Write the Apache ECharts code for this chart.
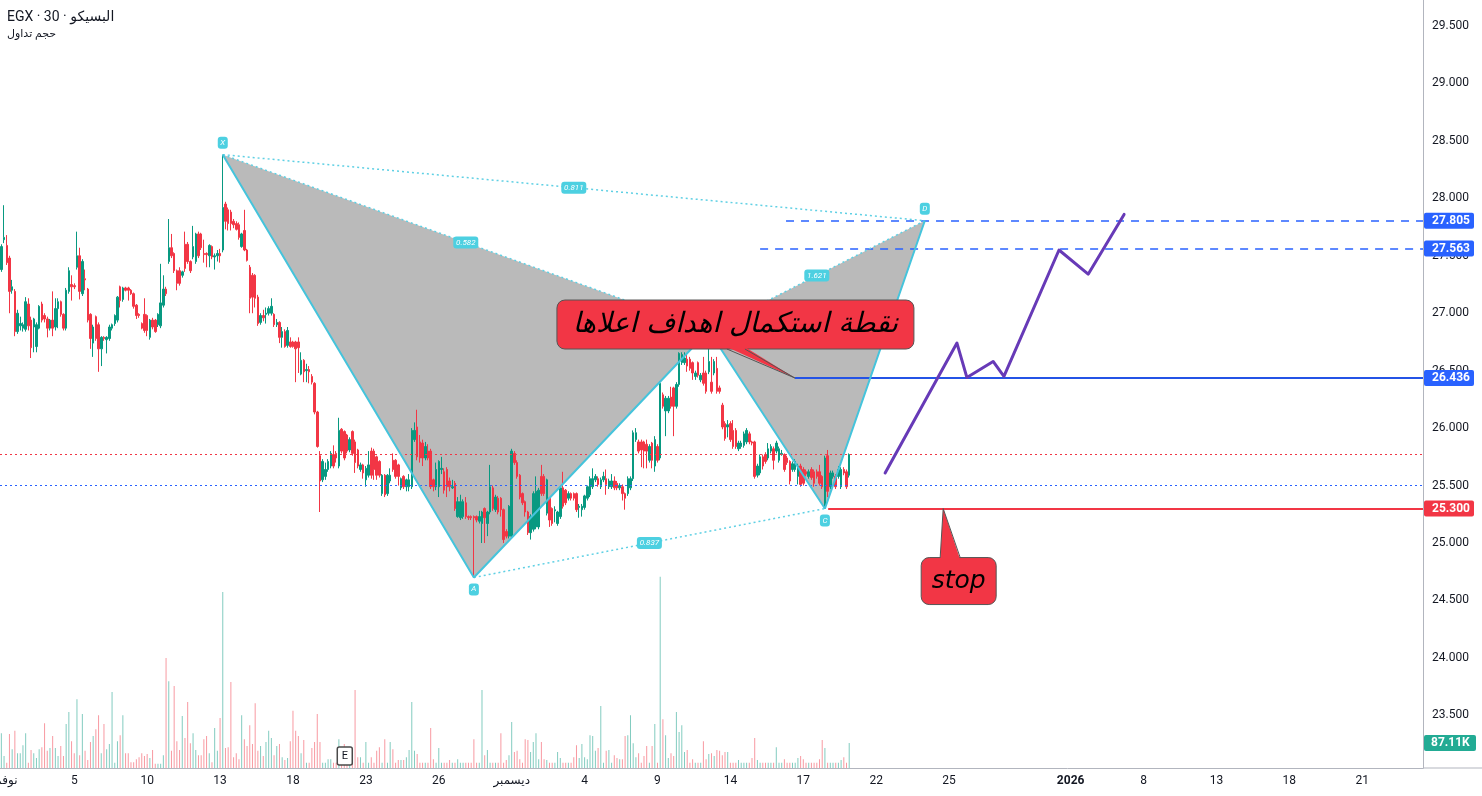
<!DOCTYPE html>
<html>
<head>
<meta charset="utf-8">
<title>EGX 30</title>
<script src="https://cdn.jsdelivr.net/npm/echarts@6.0.0/dist/echarts.min.js"></script>
<style>
  html, body { margin: 0; padding: 0; background: #fff; }
  #chart { width: 1482px; height: 796px; }
</style>
</head>
<body>
<div id="chart"></div>
<script>
// sessions on the time scale, 9 half-hour bars each
const days = [
  '2025-11-02', '2025-11-03', '2025-11-04', '2025-11-05', '2025-11-06', '2025-11-09', '2025-11-10',
  '2025-11-11', '2025-11-12', '2025-11-13', '2025-11-16', '2025-11-17', '2025-11-18', '2025-11-19',
  '2025-11-20', '2025-11-23', '2025-11-24', '2025-11-25', '2025-11-26', '2025-11-27', '2025-11-30',
  '2025-12-01', '2025-12-02', '2025-12-03', '2025-12-04', '2025-12-07', '2025-12-08', '2025-12-09',
  '2025-12-10', '2025-12-11', '2025-12-14', '2025-12-15', '2025-12-16', '2025-12-17', '2025-12-18',
  '2025-12-21', '2025-12-22', '2025-12-23', '2025-12-24', '2025-12-25', '2025-12-28', '2025-12-29',
  '2025-12-30', '2025-12-31', '2026-01-04', '2026-01-05', '2026-01-06', '2026-01-08', '2026-01-11',
  '2026-01-12', '2026-01-13', '2026-01-14', '2026-01-15', '2026-01-18', '2026-01-19', '2026-01-20',
  '2026-01-21', '2026-01-22', '2026-01-25'
]
const dayTicks = {
  '2025-11-02': 'نوفمبر', '2025-11-05': '5', '2025-11-10': '10', '2025-11-13': '13',
  '2025-11-18': '18', '2025-11-23': '23', '2025-11-26': '26', '2025-12-01': 'ديسمبر',
  '2025-12-04': '4', '2025-12-09': '9', '2025-12-14': '14', '2025-12-17': '17',
  '2025-12-22': '22', '2025-12-25': '25', '2026-01-04': '2026', '2026-01-08': '8',
  '2026-01-13': '13', '2026-01-18': '18', '2026-01-21': '21'
}
const barsPerDay = 9
const slotCount = 527

// [open, close, low, high]
const candles = [
  [27.38,27.58,27.36,27.60],[27.64,27.66,27.61,27.94],[27.59,27.44,27.42,27.68],[27.48,27.19,27.00,27.50],[27.20,27.23,27.17,27.29],
  [27.19,26.84,26.80,27.21],[26.84,27.00,26.82,27.03],[26.89,26.91,26.85,26.97],[26.87,26.90,26.84,26.92],[26.86,27.10,26.84,27.14],
  [27.08,26.89,26.85,27.13],[26.94,26.70,26.61,26.97],[26.88,26.95,26.66,26.96],[26.71,26.90,26.66,26.92],[26.87,27.06,26.86,27.07],
  [27.08,26.94,26.92,27.10],[26.98,26.95,26.92,27.00],[26.95,26.87,26.79,26.97],[26.87,26.94,26.85,26.95],[26.94,26.87,26.80,27.19],
  [26.88,27.04,26.85,27.13],[27.04,27.10,26.87,27.13],[27.10,26.99,26.97,27.11],[26.99,26.87,26.85,27.00],[26.87,27.20,26.85,27.22],
  [27.19,27.37,27.17,27.40],[27.25,27.23,27.11,27.33],[27.24,27.23,27.21,27.26],[27.40,27.50,27.38,27.71],[27.50,27.19,27.12,27.57],
  [27.17,27.45,27.15,27.47],[27.30,27.29,27.20,27.38],[27.21,26.94,26.92,27.22],[26.99,26.78,26.69,27.00],[26.74,26.88,26.62,26.90],
  [26.97,26.78,26.76,26.98],[26.90,26.69,26.49,26.92],[26.69,26.79,26.54,26.80],[26.79,26.78,26.76,26.80],[26.77,26.79,26.65,26.80],
  [26.78,26.88,26.76,26.90],[26.87,26.90,26.85,26.91],[26.91,26.98,26.89,26.99],[26.94,27.14,26.92,27.15],[27.23,27.11,27.05,27.24],
  [27.12,27.22,27.10,27.23],[27.22,27.20,27.19,27.23],[27.22,27.20,27.11,27.23],[27.20,27.17,27.16,27.21],[27.17,27.06,27.04,27.18],
  [27.07,26.98,26.95,27.08],[26.99,26.98,26.96,27.00],[26.91,26.87,26.86,26.92],[26.99,26.85,26.83,27.13],[26.98,26.85,26.80,26.99],
  [26.79,26.94,26.77,26.95],[26.94,26.88,26.86,26.96],[26.94,26.84,26.83,26.95],[26.90,26.99,26.88,27.00],[26.89,27.09,26.87,27.43],
  [27.07,27.21,27.05,27.33],[27.21,27.17,27.15,27.23],[27.45,27.57,27.43,27.82],[27.57,27.50,27.48,27.69],[27.52,27.37,27.35,27.53],
  [27.37,27.26,27.20,27.38],[27.37,27.26,27.24,27.40],[27.33,27.36,27.31,27.37],[27.60,27.39,27.36,27.71],[27.60,27.45,27.43,27.62],
  [27.45,27.37,27.35,27.46],[27.49,27.58,27.47,27.76],[27.45,27.69,27.43,27.70],[27.69,27.50,27.48,27.71],[27.69,27.57,27.55,27.70],
  [27.52,27.51,27.44,27.64],[27.52,27.51,27.40,27.53],[27.50,27.59,27.40,27.60],[27.58,27.49,27.47,27.59],[27.49,27.50,27.38,27.52],
  [27.50,27.52,27.45,27.55],[27.52,27.50,27.44,27.56],[27.55,27.92,27.53,28.38],[27.95,27.80,27.73,27.97],[27.90,27.78,27.72,27.92],
  [27.88,27.78,27.72,27.90],[27.80,27.77,27.74,27.82],[27.78,27.73,27.72,27.80],[27.77,27.66,27.64,27.79],[27.58,27.69,27.57,27.70],
  [27.72,27.55,27.54,27.90],[27.55,27.46,27.45,27.56],[27.40,27.13,27.00,27.42],[27.33,27.14,27.00,27.35],[27.33,27.13,27.05,27.34],
  [27.14,26.91,26.89,27.16],[26.92,26.98,26.90,27.00],[26.98,26.96,26.93,27.03],[26.99,27.00,26.91,27.05],[27.00,27.04,26.98,27.06],
  [27.00,27.06,26.98,27.13],[26.99,26.90,26.88,27.00],[26.90,26.92,26.88,26.95],[26.92,26.79,26.74,26.93],[26.79,26.84,26.70,26.88],
  [26.84,26.71,26.70,26.86],[26.72,26.85,26.70,26.88],[26.75,26.71,26.70,26.79],[26.75,26.71,26.70,26.76],[26.75,26.69,26.40,26.76],
  [26.75,26.70,26.48,26.79],[26.47,26.59,26.46,26.66],[26.59,26.49,26.40,26.60],[26.50,26.51,26.40,26.56],[26.51,26.49,26.39,26.54],
  [26.45,26.40,26.38,26.47],[26.39,26.14,26.12,26.40],[26.14,25.84,25.83,26.15],[25.76,25.54,25.27,25.80],[25.55,25.71,25.53,25.73],
  [25.58,25.64,25.55,25.70],[25.64,25.71,25.62,25.73],[25.67,25.78,25.65,25.80],[25.77,25.67,25.65,25.85],[25.78,25.74,25.70,25.80],
  [25.67,25.98,25.65,26.09],[25.99,25.80,25.78,26.00],[25.97,25.74,25.72,25.98],[25.94,25.80,25.78,25.95],[25.81,25.90,25.79,25.92],
  [25.97,25.78,25.76,25.98],[25.88,25.70,25.61,25.90],[25.81,25.67,25.65,25.82],[25.64,25.68,25.62,25.70],[25.68,25.61,25.56,25.69],
  [25.55,25.65,25.49,25.67],[25.59,25.68,25.57,25.80],[25.80,25.59,25.56,25.83],[25.80,25.64,25.55,25.82],[25.75,25.59,25.55,25.76],
  [25.71,25.59,25.57,25.72],[25.43,25.59,25.41,25.60],[25.59,25.42,25.40,25.60],[25.43,25.59,25.41,25.60],[25.54,25.59,25.52,25.65],
  [25.72,25.64,25.62,25.78],[25.72,25.58,25.56,25.73],[25.68,25.58,25.50,25.69],[25.48,25.56,25.46,25.57],[25.58,25.49,25.47,25.59],
  [25.49,25.55,25.45,25.56],[25.49,25.55,25.45,25.60],[25.49,25.98,25.47,26.00],[25.90,25.98,25.88,26.05],[26.01,25.75,25.72,26.16],
  [25.88,25.74,25.70,25.94],[25.87,25.74,25.67,25.90],[25.74,25.84,25.72,25.88],[25.80,25.74,25.72,25.86],[25.80,25.49,25.47,25.82],
  [25.55,25.49,25.45,25.56],[25.49,25.64,25.46,25.70],[25.49,25.71,25.40,25.72],[25.64,25.65,25.60,25.75],[25.62,25.46,25.43,25.65],
  [25.64,25.49,25.40,25.66],[25.54,25.49,25.45,25.57],[25.48,25.49,25.47,25.55],[25.52,25.30,25.28,25.54],[25.23,25.36,25.22,25.40],
  [25.22,25.36,25.20,25.42],[25.23,25.36,25.21,25.38],[25.35,25.23,25.21,25.40],[25.23,25.22,25.20,25.24],[25.23,25.22,25.20,25.24],
  [25.23,25.22,24.70,25.24],[25.23,25.20,25.18,25.24],[25.19,25.23,25.17,25.28],[25.17,25.27,25.00,25.28],[25.30,25.22,25.00,25.31],
  [25.17,25.27,25.06,25.28],[25.27,25.49,25.25,25.68],[25.48,25.30,25.28,25.50],[25.29,25.40,25.27,25.42],[25.39,25.27,25.25,25.41],
  [25.39,25.29,25.23,25.40],[25.29,25.03,25.00,25.30],[25.10,25.06,25.04,25.12],[25.06,25.32,25.04,25.33],[25.06,25.80,25.04,25.82],
  [25.78,25.70,25.68,25.80],[25.70,25.58,25.56,25.72],[25.59,25.40,25.38,25.60],[25.43,25.35,25.33,25.44],[25.36,25.27,25.23,25.37],
  [25.27,25.09,25.07,25.28],[25.09,25.23,25.03,25.25],[25.12,25.43,25.10,25.45],[25.14,25.45,25.12,25.58],[25.14,25.46,25.12,25.48],
  [25.58,25.43,25.41,25.68],[25.58,25.43,25.41,25.60],[25.26,25.55,25.24,25.56],[25.39,25.20,25.14,25.40],[25.30,25.17,25.15,25.31],
  [25.28,25.29,25.18,25.32],[25.17,25.27,25.15,25.28],[25.23,25.48,25.21,25.49],[25.48,25.32,25.30,25.62],[25.46,25.35,25.33,25.47],
  [25.39,25.43,25.37,25.45],[25.43,25.39,25.37,25.44],[25.43,25.39,25.37,25.44],[25.43,25.29,25.27,25.44],[25.31,25.32,25.22,25.34],
  [25.29,25.32,25.23,25.34],[25.31,25.41,25.29,25.42],[25.39,25.49,25.37,25.50],[25.42,25.56,25.40,25.58],[25.49,25.56,25.47,25.65],
  [25.55,25.58,25.53,25.60],[25.56,25.51,25.49,25.58],[25.49,25.55,25.47,25.57],[25.55,25.58,25.53,25.62],[25.56,25.51,25.42,25.64],
  [25.49,25.54,25.47,25.56],[25.49,25.54,25.47,25.60],[25.54,25.48,25.46,25.58],[25.52,25.48,25.46,25.54],[25.48,25.50,25.46,25.52],
  [25.49,25.43,25.37,25.51],[25.43,25.39,25.29,25.44],[25.43,25.56,25.41,25.58],[25.48,25.56,25.46,25.58],[25.56,25.96,25.54,25.98],
  [25.90,25.96,25.88,26.00],[25.88,25.80,25.78,25.90],[25.88,25.81,25.66,25.90],[25.88,25.80,25.65,25.89],[25.86,25.80,25.65,25.90],
  [25.72,25.84,25.70,25.86],[25.87,25.72,25.65,25.88],[25.67,25.90,25.62,25.93],[25.84,25.72,25.70,25.86],[25.74,26.39,25.72,26.41],
  [26.29,26.19,26.17,26.31],[26.15,26.26,25.93,26.28],[26.15,26.26,26.13,26.28],[26.27,26.19,26.17,26.36],[26.35,26.19,25.93,26.36],
  [26.19,26.38,26.17,26.40],[26.38,26.65,26.36,26.66],[26.57,26.64,26.55,26.66],[26.57,26.61,26.55,26.66],[26.60,26.54,26.49,26.65],
  [26.60,26.52,26.50,26.62],[26.57,26.48,26.42,26.58],[26.45,26.48,26.42,26.50],[26.57,26.46,26.44,26.58],[26.42,26.46,26.40,26.48],
  [26.48,26.39,26.37,26.62],[26.48,26.32,26.30,26.50],[26.49,26.58,26.47,26.85],[26.40,26.32,26.30,26.62],[26.48,26.58,26.46,26.60],
  [26.52,26.32,26.30,26.62],[26.35,26.32,26.30,26.37],[26.20,26.01,25.99,26.22],[26.04,25.91,25.89,26.06],[26.01,26.03,25.92,26.07],
  [26.04,25.90,25.88,26.06],[25.98,25.84,25.82,26.07],[25.98,25.84,25.82,26.00],[25.82,25.87,25.80,25.89],[25.84,25.87,25.82,25.89],
  [25.85,25.95,25.83,25.97],[25.88,25.98,25.86,26.00],[25.95,25.88,25.86,25.97],[25.88,25.87,25.85,25.89],[25.88,25.58,25.56,25.89],
  [25.59,25.67,25.57,25.69],[25.61,25.75,25.59,25.77],[25.75,25.67,25.64,25.77],[25.77,25.71,25.69,25.79],[25.74,25.82,25.72,25.87],
  [25.80,25.84,25.78,25.86],[25.82,25.72,25.64,25.84],[25.80,25.87,25.78,25.89],[25.72,25.82,25.70,25.84],[25.77,25.78,25.76,25.81],
  [25.77,25.64,25.62,25.78],[25.74,25.70,25.68,25.76],[25.71,25.54,25.51,25.72],[25.64,25.69,25.62,25.71],[25.64,25.71,25.62,25.73],
  [25.58,25.67,25.51,25.69],[25.67,25.51,25.49,25.69],[25.64,25.52,25.50,25.66],[25.62,25.60,25.58,25.64],[25.58,25.62,25.56,25.64],
  [25.64,25.57,25.55,25.66],[25.62,25.52,25.49,25.64],[25.62,25.58,25.56,25.64],[25.62,25.52,25.50,25.68],[25.58,25.49,25.47,25.59],
  [25.32,25.74,25.30,25.76],[25.76,25.45,25.40,25.81],[25.49,25.61,25.47,25.63],[25.58,25.61,25.56,25.63],[25.58,25.49,25.47,25.60],
  [25.58,25.64,25.56,25.67],[25.49,25.64,25.47,25.66],[25.64,25.61,25.59,25.66],[25.62,25.49,25.47,25.64],[25.59,25.77,25.57,25.78]
]

// volume per bar, thousands
const volumes = [
  122,42,18,119,66,130,52,52,80,122, 18,63,52,35,66,73,157,60,70,112,
  70,42,77,42,154,196,94,52,241,45, 189,60,28,91,112,136,185,52,154,66,
  84,266,18,94,115,185,52,52,20,20, 31,38,52,42,49,35,63,15,15,15,
  45,385,304,60,287,94,63,182,105,231, 87,122,63,45,45,101,112,52,20,140,
  60,175,616,70,73,301,38,52,31,185, 101,77,150,84,227,60,77,42,91,130,
  105,45,77,84,38,28,35,94,200,130, 112,52,98,18,18,70,91,189,91,18,
  18,31,31,18,18,101,18,84,18,18, 18,273,38,38,18,91,18,38,18,60,
  73,18,101,18,91,66,18,28,28,28, 38,63,231,60,49,18,18,18,18,140,
  31,18,70,18,18,18,28,18,18,31, 18,18,18,18,18,101,18,18,273,45,
  63,18,18,18,18,122,18,28,45,161, 56,60,31,18,101,98,56,91,122,31,
  91,31,28,18,18,18,56,35,18,18, 18,18,38,80,35,84,38,31,115,112,
  60,70,217,18,60,63,18,45,35,31, 31,112,115,185,87,38,52,18,42,77,
  18,77,154,18,669,171,115,35,52,42, 196,126,150,56,63,18,31,18,18,18,
  94,31,49,52,42,63,60,45,56,56, 18,18,18,28,18,18,18,18,35,105,
  28,18,18,18,18,18,18,73,18,18, 31,18,18,18,18,35,42,31,18,18,
  18,18,18,31,98,70,18,18,18,18, 18,28,38,18,87.11
]

// harmonic pattern points [bar, price]
const patternNames = ['X', 'A', 'B', 'C', 'D']
const patternPoints = [[82, 28.38], [175, 24.70], [262, 26.85], [305, 25.30], [342, 27.805]]
// ratio legs: [from point, to point, ratio]
const ratioLegs = [[0, 2, '0.582'], [0, 4, '0.811'], [1, 3, '0.837'], [2, 4, '1.621']]

// horizontal levels: price and bar where the drawing begins
const levelPrices = [27.805, 27.563, 26.436, 25.300]
const levelStart = [290.6, 281.0, 293.9, 306.2]
const lastPrice = 25.77
const refPrice = 25.50

// projected path [bar, price]
const forecastPath = [[327.3, 25.61], [353.9, 26.74], [357.6, 26.44], [367.3, 26.58], [371.3, 26.45],
  [391.7, 27.55], [402.5, 27.34], [415.8, 27.86]]

// callouts: anchor [bar, price] and text
const calloutAnchors = [[293.9, 26.436], [348.8, 25.30]]
const calloutTexts = ['نقطة استكمال اهداف اعلاها', 'stop']

const eventBar = 127

const UP = '#089981'
const DOWN = '#f23645'
const BLUE = '#2962ff'
const CYAN = '#4dd0e1'
const FONT = "Roboto, 'DejaVu Sans', sans-serif"

const categories = []
days.forEach(d => {
  for (let k = 0; k < barsPerDay; k++) categories.push(d + ' ' + k)
})
categories.length = slotCount

const volumeData = volumes.map((v, i) => ({
  value: v,
  itemStyle: { color: candles[i][1] >= candles[i][0] ? 'rgba(8,153,129,0.5)' : 'rgba(242,54,69,0.5)' }
}))

const levelStyles = [
  { color: BLUE, width: 1.5, type: [8, 7], opacity: 1 },
  { color: BLUE, width: 1.5, type: [8, 7], opacity: 1 },
  { color: '#2453e6', width: 2, type: 'solid', opacity: 1 },
  { color: DOWN, width: 2, type: 'solid', opacity: 1 }
]
const tagColors = [BLUE, BLUE, BLUE, DOWN]

const lineData = []
levelPrices.forEach((p, i) => {
  lineData.push({ coords: [[levelStart[i], p], [slotCount - 0.5, p]], lineStyle: levelStyles[i] })
})
lineData.push({ coords: [[-0.5, lastPrice], [slotCount - 0.5, lastPrice]], lineStyle: { color: DOWN, width: 1, type: [2, 3], opacity: 1 } })
lineData.push({ coords: [[-0.5, refPrice], [slotCount - 0.5, refPrice]], lineStyle: { color: BLUE, width: 1, type: [2, 3], opacity: 1 } })
ratioLegs.forEach(r => {
  lineData.push({ coords: [patternPoints[r[0]], patternPoints[r[1]]], lineStyle: { color: '#5fd0e4', width: 1.5, type: [2, 3], opacity: 1 } })
})

// point label placement: -1 above, 1 below
const pointSide = [-1, 1, -1, 1, -1]
const labelItems = patternPoints.map((p, i) => [p[0], p[1], 0, i])
ratioLegs.forEach((r, i) => {
  const a = patternPoints[r[0]], b = patternPoints[r[1]]
  labelItems.push([(a[0] + b[0]) / 2, (a[1] + b[1]) / 2, 1, i])
})

const calloutLayout = [
  { box: [-238, -78, 357, 49], tail: [-68, -50, -29], fontSize: 28 },
  { box: [-22, 49, 75, 47], tail: [-3, 17, 49], fontSize: 25 }
]

const chart = echarts.init(document.getElementById('chart'))

chart.setOption({
  animation: false,
  backgroundColor: '#ffffff',
  textStyle: { fontFamily: FONT },
  grid: [
    { left: 0, right: 59, top: 0, bottom: 28, outerBoundsMode: 'none', containLabel: false },
    { left: 0, right: 59, top: 538, bottom: 28, outerBoundsMode: 'none', containLabel: false }
  ],
  xAxis: [
    {
      type: 'category', gridIndex: 0, data: categories, boundaryGap: true,
      axisLine: { lineStyle: { color: '#b2b5be' } },
      axisTick: { show: false },
      splitLine: { show: false },
      axisLabel: {
        margin: 7, color: '#131722', fontSize: 12, fontFamily: FONT,
        interval: (idx, val) => {
          const parts = val.split(' ')
          return parts[1] === '0' && dayTicks[parts[0]] !== undefined
        },
        formatter: val => {
          const t = dayTicks[val.split(' ')[0]]
          return t === '2026' ? '{b|2026}' : t
        },
        rich: { b: { fontWeight: 'bold', fontSize: 12, color: '#131722', fontFamily: FONT } }
      }
    },
    { type: 'value', gridIndex: 0, min: -0.5, max: slotCount - 0.5, show: false },
    { type: 'category', gridIndex: 1, data: categories, boundaryGap: true, show: false }
  ],
  yAxis: [
    {
      type: 'value', gridIndex: 0, position: 'right', min: 23.042, max: 29.726, scale: true,
      axisLine: { show: true, onZero: false, lineStyle: { color: '#b2b5be' } },
      axisTick: { show: false },
      splitLine: { show: false },
      axisLabel: {
        margin: 9, color: '#131722', fontSize: 12, fontFamily: FONT,
        customValues: [23.5, 24, 24.5, 25, 25.5, 26, 26.5, 27, 27.5, 28, 28.5, 29, 29.5],
        formatter: v => v.toFixed(3)
      }
    },
    { type: 'value', gridIndex: 1, min: 0, max: 805, show: false }
  ],
  graphic: [
    { type: 'text', left: 7, top: 10, style: { text: 'EGX · 30 · البسيكو', fontSize: 14, fill: '#131722', fontFamily: FONT } },
    { type: 'text', left: 7, top: 29, style: { text: 'حجم تداول', fontSize: 11, fill: '#131722', fontFamily: FONT } },
    { type: 'line', shape: { x1: 1423, y1: 768, x2: 1482, y2: 768 }, style: { stroke: '#b2b5be', lineWidth: 1 } }
  ],
  series: [
    {
      type: 'custom', name: 'pattern-fill', xAxisIndex: 1, yAxisIndex: 0, z: 1, silent: true,
      data: [
        [].concat(patternPoints[0], patternPoints[1], patternPoints[2]),
        [].concat(patternPoints[2], patternPoints[3], patternPoints[4])
      ],
      renderItem: (params, api) => {
        const pts = [0, 1, 2].map(j => api.coord([api.value(j * 2), api.value(j * 2 + 1)]))
        return { type: 'polygon', shape: { points: pts }, style: { fill: '#bababa' } }
      }
    },
    {
      type: 'bar', name: 'volume', xAxisIndex: 2, yAxisIndex: 1, data: volumeData,
      barWidth: 1, silent: true, z: 2
    },
    {
      type: 'candlestick', name: 'EGX 30', xAxisIndex: 0, yAxisIndex: 0, data: candles,
      barWidth: 2, z: 3, silent: true,
      itemStyle: { color: UP, color0: DOWN, borderColor: UP, borderColor0: DOWN, borderWidth: 1 }
    },
    {
      type: 'lines', coordinateSystem: 'cartesian2d', xAxisIndex: 1, yAxisIndex: 0,
      data: lineData, silent: true, z: 4, lineStyle: { opacity: 1 }
    },
    {
      type: 'line', name: 'pattern', xAxisIndex: 1, yAxisIndex: 0, data: patternPoints,
      symbol: 'none', silent: true, z: 5,
      lineStyle: { color: '#45c4dc', width: 2 }
    },
    {
      type: 'line', name: 'forecast', xAxisIndex: 1, yAxisIndex: 0, data: forecastPath,
      symbol: 'none', silent: true, z: 5,
      lineStyle: { color: '#673ab7', width: 3, cap: 'round', join: 'round' }
    },
    {
      type: 'custom', name: 'pattern-labels', xAxisIndex: 1, yAxisIndex: 0, z: 6, silent: true,
      data: labelItems,
      renderItem: (params, api) => {
        const p = api.coord([api.value(0), api.value(1)])
        const kind = api.value(2), idx = api.value(3)
        const text = kind === 0 ? patternNames[idx] : ratioLegs[idx][2]
        const w = kind === 0 ? 10 : 25, h = 12
        const cy = kind === 0 ? p[1] + pointSide[idx] * 12 : p[1]
        return {
          type: 'group', children: [
            { type: 'rect', shape: { x: p[0] - w / 2, y: cy - h / 2, width: w, height: h, r: 3 }, style: { fill: CYAN } },
            { type: 'text', style: { text: text, x: p[0], y: cy, fill: '#ffffff', fontSize: 8, fontStyle: 'italic', fontFamily: FONT, align: 'center', verticalAlign: 'middle' } }
          ]
        }
      }
    },
    {
      type: 'custom', name: 'callouts', xAxisIndex: 1, yAxisIndex: 0, z: 8, silent: true,
      data: calloutAnchors,
      renderItem: (params, api) => {
        const p = api.coord([api.value(0), api.value(1)])
        const c = calloutLayout[params.dataIndex]
        const bx = p[0] + c.box[0], by = p[1] + c.box[1]
        const t0 = [p[0] + c.tail[0], p[1] + c.tail[2]]
        const t1 = [p[0] + c.tail[1], p[1] + c.tail[2]]
        const inset = c.tail[2] < 0 ? -2 : 2
        return {
          type: 'group', children: [
            { type: 'rect', shape: { x: bx, y: by, width: c.box[2], height: c.box[3], r: 8 }, style: { fill: DOWN, stroke: '#555555', lineWidth: 1 } },
            { type: 'polygon', shape: { points: [[t0[0], t0[1] + inset], [t1[0], t1[1] + inset], p] }, style: { fill: DOWN } },
            { type: 'polyline', shape: { points: [t0, p, t1] }, style: { stroke: '#555555', lineWidth: 1, fill: null } },
            { type: 'text', style: { text: calloutTexts[params.dataIndex], x: bx + c.box[2] / 2, y: by + c.box[3] / 2, fill: '#000000', fontSize: c.fontSize, fontStyle: 'italic', fontFamily: "'DejaVu Sans', sans-serif", align: 'center', verticalAlign: 'middle' } }
          ]
        }
      }
    },
    {
      type: 'custom', name: 'price-tags', xAxisIndex: 1, yAxisIndex: 0, z: 9, silent: true,
      data: levelPrices.map(p => [slotCount - 0.5, p]),
      renderItem: (params, api) => {
        const p = api.coord([api.value(0), api.value(1)])
        return {
          type: 'group', children: [
            { type: 'rect', shape: { x: p[0] + 1, y: p[1] - 8, width: 50, height: 16, r: 2 }, style: { fill: tagColors[params.dataIndex] } },
            { type: 'text', style: { text: api.value(1).toFixed(3), x: p[0] + 9, y: p[1], fill: '#ffffff', fontSize: 12, fontWeight: 'bold', fontFamily: FONT, align: 'left', verticalAlign: 'middle' } }
          ]
        }
      }
    },
    {
      type: 'custom', name: 'volume-tag', xAxisIndex: 2, yAxisIndex: 1, z: 9, silent: true,
      data: [[candles.length - 1, volumes[volumes.length - 1]]],
      renderItem: (params, api) => {
        const p = api.coord([api.value(0), api.value(1)])
        const x0 = params.coordSys.x + params.coordSys.width
        return {
          type: 'group', children: [
            { type: 'rect', shape: { x: x0 + 1, y: p[1] - 8, width: 52, height: 16, r: 2 }, style: { fill: '#22ab94' } },
            { type: 'text', style: { text: api.value(1).toFixed(2) + 'K', x: x0 + 8, y: p[1], fill: '#ffffff', fontSize: 12, fontWeight: 'bold', fontFamily: FONT, align: 'left', verticalAlign: 'middle' } }
          ]
        }
      }
    },
    {
      type: 'custom', name: 'event', xAxisIndex: 2, yAxisIndex: 1, z: 9, silent: true,
      data: [[eventBar, 0]],
      renderItem: (params, api) => {
        const p = api.coord([api.value(0), api.value(1)])
        return {
          type: 'group', children: [
            { type: 'rect', shape: { x: p[0] - 7, y: p[1] - 21, width: 15, height: 18, r: 2 }, style: { fill: '#ffffff', stroke: '#4a4a4a', lineWidth: 1.5 } },
            { type: 'text', style: { text: 'E', x: p[0] + 0.5, y: p[1] - 12, fill: '#131722', fontSize: 11, fontFamily: FONT, align: 'center', verticalAlign: 'middle' } }
          ]
        }
      }
    }
  ]
})
</script>
</body>
</html>
